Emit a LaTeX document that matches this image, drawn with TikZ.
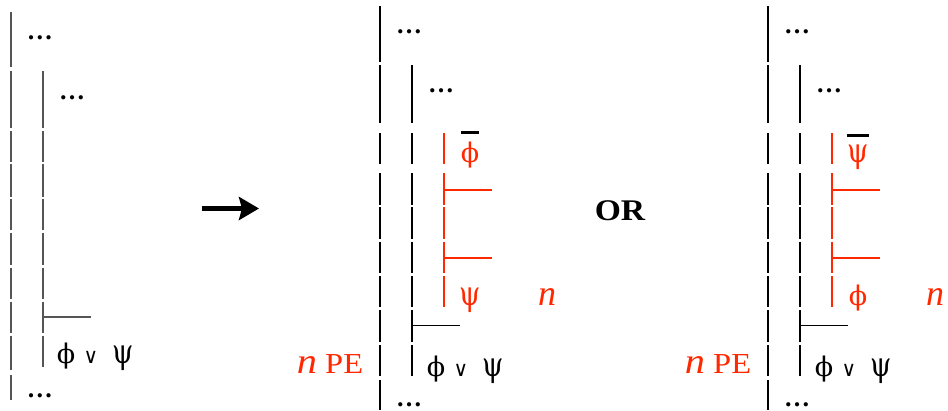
\documentclass[tikz,border=0pt]{standalone}
\usepackage{fontspec}
\setmainfont{Liberation Serif}
\newfontfamily\wide[FakeStretch=1.12]{Liberation Serif}
\newfontfamily\grf{DejaVu Serif}
\newfontfamily\grn[FakeStretch=0.8]{DejaVu Serif}
\newfontfamily\sym[FakeStretch=0.95]{DejaVu Sans}
\usetikzlibrary{arrows.meta}
\definecolor{pred}{RGB}{255,40,0}
\definecolor{lgrey}{RGB}{85,85,85}
\newcommand{\gphi}{{\grf\fontsize{27}{27}\selectfont ϕ}}
\newcommand{\gpsi}{{\grn\fontsize{34}{34}\selectfont ψ}}
\tikzset{
  dots/.style={inner sep=0pt, anchor=base, font=\bfseries\fontsize{26}{26}\selectfont},
  gtxt/.style={inner sep=0pt, anchor=base},
  ortxt/.style={inner sep=0pt, anchor=base, font=\sym\fontsize{21}{21}\selectfont},
  vl/.style={line width=1.3pt},
  rl/.style={line width=1.2pt, pred},
}
\begin{document}
\begin{tikzpicture}[x=1pt,y=-1pt]
\useasboundingbox (0,0) rectangle (948,410);
% ---------- left panel ----------
\foreach \a/\b in {11.7/66.7,71/128.3,131/161.7,164.3/196.7,199.3/230,233.3/265,267.7/299,301.7/333.3,335.7/370,375/400}
  \draw[vl,lgrey] (11,\a) -- (11,\b);
\foreach \a/\b in {71/128.3,131/161.7,164.3/196.7,199.3/230,233.3/265,267.7/299,301.7/333.3,335.7/367}
  \draw[vl,lgrey] (43,\a) -- (43,\b);
\coordinate (lh1) at (43,317);
\coordinate (lh2) at (91,317);
\draw[line width=1.1pt,lgrey] (lh1) -- (lh2);
\node[dots] (ld1) at (40,39.5) {…};
\node[dots] (ld2) at (72,99.5) {…};
\node[gtxt] (lf1) at (66,363) {\gphi};
\node[ortxt] (lf2) at (91,363) {∨};
\node[gtxt] (lf3) at (123.5,363) {\gpsi};
\node[dots] (ld3) at (40,397.5) {…};
% ---------- arrow ----------
\coordinate (a1) at (202,208.5);
\coordinate (a2) at (259,208.5);
\draw[line width=4.5pt,-{Stealth[length=20pt,width=23pt,inset=3pt]}] (a1) -- (a2);
% ---------- OR ----------
\node[inner sep=0pt,anchor=base,font=\wide\bfseries\fontsize{30}{30}\selectfont] (or) at (620,220) {OR};
% ---------- middle and right panels ----------
\foreach \dx/\top/\bot in {0/\gphi/\gpsi, 388/\gpsi/\gphi}{
  \begin{scope}[xshift=\dx]
  \foreach \a/\b in {6/61.7,65/122.7,133.3/164,173.3/205,207.3/239,241.7/273.3,276/307.3,310/341.7,345/376,380/410}
    \draw[vl] (380,\a) -- (380,\b);
  \foreach \a/\b in {65/122.7,133.3/164,173.3/205,207.3/239,241.7/273.3,276/307.3,310/341.7,345/376}
    \draw[vl] (412,\a) -- (412,\b);
  \foreach \a/\b in {133.3/164,173.3/205,207.3/239,241.7/273.3,276/307.3}
    \draw[rl] (444,\a) -- (444,\b);
  \draw[rl] (444,190) -- (492,190);
  \draw[rl] (444,258) -- (492,258);
  \draw[line width=1.1pt] (412,325.7) -- (460,325.7);
  \node[dots] (d1) at (409,33.5) {…};
  \node[dots] (d2) at (441,92.5) {…};
  \node[gtxt,text=pred] (ta) at (470,162) {\top};
  \draw[line width=3pt] ([yshift=9pt]ta.north west) -- ([yshift=9pt]ta.north east);
  \node[gtxt,text=pred] (tb) at (470,305) {\bot};
  \node[inner sep=0pt,anchor=base,text=pred,font=\itshape\fontsize{36}{36}\selectfont] (nn) at (547,305) {n};
  \node[gtxt] (f1) at (436,376) {\gphi};
  \node[ortxt] (f2) at (461,376) {∨};
  \node[gtxt] (f3) at (493.5,376) {\gpsi};
  \node[inner sep=0pt,anchor=base,text=pred,font=\wide\fontsize{29}{29}\selectfont] (pe) at (330,373) {{\fontsize{36}{36}\selectfont\itshape n} PE};
  \node[dots] (d3) at (409,406.5) {…};
  \end{scope}
}
\end{tikzpicture}
\end{document}
